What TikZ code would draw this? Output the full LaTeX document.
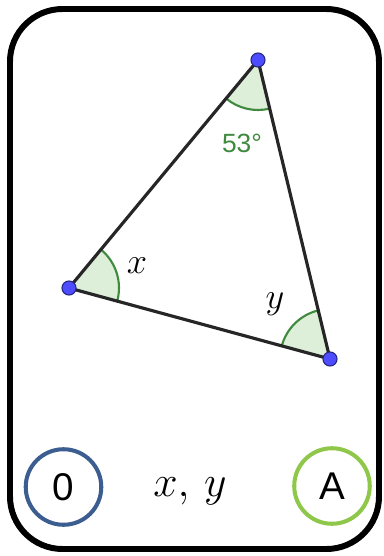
\documentclass[tikz,border=0pt]{standalone}
\usepackage{amsmath}
\usepackage{fontspec}
\newfontfamily\labelfont{Liberation Sans}
\usetikzlibrary{angles}
\definecolor{anglegreen}{HTML}{3F8A3F}
\definecolor{anglefill}{HTML}{DDEFD9}
\definecolor{ptblue}{HTML}{4D4DFF}
\definecolor{ringblue}{HTML}{3C5D90}
\definecolor{ringgreen}{HTML}{8FC74A}

\begin{document}
\begin{tikzpicture}[x=0.02cm,y=-0.02cm]
    \useasboundingbox (0,0) rectangle (384,556);
    \draw[line width=3.4pt,rounded corners=1.05cm] (10,9) rectangle (379,549);
    \coordinate (T) at (258,60);
    \coordinate (L) at (69,288);
    \coordinate (R) at (330,359);
    \pic[draw=anglegreen,fill=anglefill,line width=1.2pt,angle radius=1cm] {angle=L--T--R};
    \pic[draw=anglegreen,fill=anglefill,line width=1.2pt,angle radius=1cm] {angle=R--L--T};
    \pic[draw=anglegreen,fill=anglefill,line width=1.2pt,angle radius=1cm] {angle=T--R--L};
    \draw[line width=1.8pt,black!85] (T)--(L)--(R)--cycle;
    \foreach \p in {T,L,R}
      {\draw[fill=ptblue,draw=ptblue!50!black,line width=.6pt] (\p) circle (4pt);}
    \node[text=anglegreen,font=\labelfont\fontsize{15}{18}\selectfont,anchor=base] (deg) at (242,152) {53°};
    \node[font=\fontsize{22}{26}\selectfont,anchor=base] (xlab) at (137,273) {$x$};
    \node[font=\fontsize{22}{26}\selectfont,anchor=base] (ylab) at (275,308) {$y$};
    \node[draw=ringblue,line width=2.3pt,circle,minimum size=43pt,inner sep=0pt,
      font=\labelfont\fontsize{22}{26}\selectfont] (zero) at (63.5,487) {0};
    \node[draw=ringgreen,line width=2.3pt,circle,minimum size=43pt,inner sep=0pt,
      font=\labelfont\fontsize{22}{26}\selectfont] (ans) at (332,486) {A};
    \node[font=\fontsize{23}{27}\selectfont,anchor=base] (xy) at (190,496) {$x,\,y$};
\end{tikzpicture}
\end{document}
